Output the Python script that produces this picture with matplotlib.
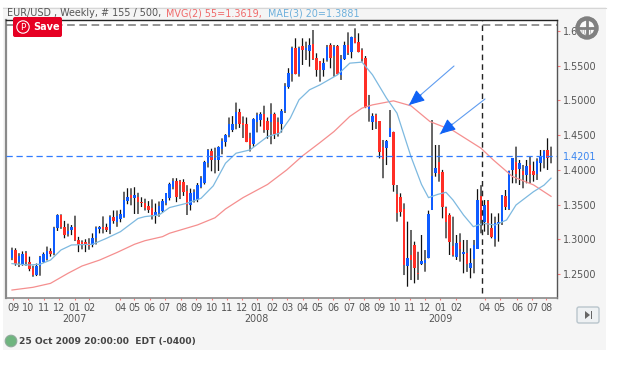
import numpy as np
import matplotlib
matplotlib.use('Agg')
import matplotlib.pyplot as plt
from matplotlib.patches import FancyBboxPatch, Circle, Polygon, Rectangle

# weekly candles
opens = [1.2736, 1.2837, 1.268, 1.2654, 1.280, 1.267, 1.259, 1.2495, 1.262, 1.268,
         1.2715, 1.283, 1.28, 1.316, 1.335, 1.318, 1.3077, 1.3135, 1.318, 1.299,
         1.2965, 1.2955, 1.2945, 1.2925, 1.3015, 1.3155, 1.317, 1.317, 1.3135, 1.332,
         1.3255, 1.33, 1.333, 1.3555, 1.364, 1.3605, 1.3605, 1.3535, 1.352, 1.347,
         1.3445, 1.335, 1.3375, 1.341, 1.352, 1.3595, 1.376, 1.384, 1.383, 1.382,
         1.3687, 1.3495, 1.357, 1.3567, 1.3758, 1.381, 1.410, 1.427, 1.415, 1.414,
         1.431, 1.441, 1.450, 1.4585, 1.467, 1.4825, 1.4675, 1.4655, 1.4455, 1.4383,
         1.470, 1.4728, 1.4805, 1.4695, 1.4695, 1.4805, 1.4685, 1.467, 1.4845, 1.5192,
         1.5392, 1.5752, 1.5392, 1.5776, 1.5728, 1.5713, 1.5814, 1.5608, 1.556, 1.544,
         1.5584, 1.579, 1.565, 1.5776, 1.5375, 1.5608, 1.579, 1.5704, 1.5896, 1.5838,
         1.5728, 1.5608, 1.4885, 1.4695, 1.479, 1.4695, 1.4334, 1.432, 1.4479, 1.4541,
         1.3652, 1.3604, 1.3431, 1.262, 1.2764, 1.2918, 1.2512, 1.2644, 1.2663, 1.2735,
         1.3422, 1.3965, 1.4109, 1.396, 1.3446, 1.335, 1.2894, 1.275, 1.2956, 1.2788,
         1.2798, 1.2591, 1.2726, 1.287, 1.3614, 1.3254, 1.3542, 1.3158, 1.3014, 1.323,
         1.3254, 1.3614, 1.3446, 1.3999, 1.4104, 1.4018, 1.3975, 1.3927, 1.4071, 1.3975,
         1.3951, 1.4109, 1.4167, 1.4287, 1.4200]
highs = [1.288, 1.287, 1.280, 1.2825, 1.283, 1.275, 1.262, 1.265, 1.276, 1.281,
         1.2895, 1.287, 1.318, 1.336, 1.336, 1.3265, 1.3225, 1.3205, 1.334, 1.3035,
         1.2985, 1.30, 1.3015, 1.3085, 1.3185, 1.319, 1.333, 1.3225, 1.3345, 1.3415,
         1.3415, 1.3425, 1.3685, 1.3735, 1.3735, 1.375, 1.367, 1.3605, 1.3585, 1.355,
         1.3575, 1.3515, 1.3545, 1.358, 1.3665, 1.3815, 1.388, 1.388, 1.3855, 1.3865,
         1.378, 1.373, 1.372, 1.381, 1.391, 1.413, 1.430, 1.4305, 1.432, 1.434,
         1.4455, 1.4515, 1.4755, 1.4775, 1.497, 1.488, 1.477, 1.4755, 1.4535, 1.4745,
         1.4825, 1.483, 1.4925, 1.4755, 1.496, 1.4825, 1.4755, 1.4875, 1.525, 1.5465,
         1.5776, 1.5896, 1.5776, 1.5896, 1.5848, 1.5896, 1.6016, 1.568, 1.556, 1.5608,
         1.580, 1.5824, 1.580, 1.580, 1.5656, 1.5848, 1.5982, 1.592, 1.604, 1.5968,
         1.5752, 1.564, 1.508, 1.4815, 1.481, 1.4695, 1.4431, 1.4431, 1.4863, 1.4551,
         1.3782, 1.3662, 1.3518, 1.3254, 1.3134, 1.2966, 1.282, 1.3062, 1.2845, 1.3413,
         1.4719, 1.4359, 1.4359, 1.400, 1.347, 1.3374, 1.3326, 1.3062, 1.3086, 1.299,
         1.299, 1.287, 1.299, 1.3722, 1.378, 1.3566, 1.3566, 1.3374, 1.3326, 1.3374,
         1.3638, 1.371, 1.399, 1.4167, 1.4335, 1.4143, 1.4071, 1.4143, 1.4191, 1.4119,
         1.4167, 1.4287, 1.4287, 1.4455, 1.4335]
lows = [1.270, 1.262, 1.260, 1.262, 1.262, 1.254, 1.246, 1.247, 1.2475, 1.266,
        1.2695, 1.275, 1.277, 1.312, 1.315, 1.3015, 1.304, 1.306, 1.2975, 1.2815,
        1.2855, 1.2815, 1.285, 1.2885, 1.2925, 1.3085, 1.3085, 1.3105, 1.3075, 1.3225,
        1.318, 1.3245, 1.331, 1.3505, 1.349, 1.3365, 1.3365, 1.3465, 1.3415, 1.338,
        1.3285, 1.3225, 1.3325, 1.3385, 1.349, 1.356, 1.372, 1.3535, 1.358, 1.3625,
        1.335, 1.3415, 1.353, 1.3535, 1.3735, 1.379, 1.4035, 1.398, 1.395, 1.3985,
        1.4225, 1.4335, 1.447, 1.4545, 1.4585, 1.4605, 1.446, 1.440, 1.4265, 1.4335,
        1.454, 1.4625, 1.4535, 1.445, 1.437, 1.4445, 1.448, 1.454, 1.482, 1.517,
        1.5272, 1.5377, 1.5344, 1.5512, 1.5584, 1.5488, 1.5584, 1.5344, 1.5272, 1.5344,
        1.556, 1.5464, 1.5344, 1.5368, 1.5296, 1.5584, 1.5656, 1.5608, 1.5824, 1.5694,
        1.556, 1.489, 1.4695, 1.4575, 1.459, 1.4166, 1.388, 1.407, 1.4479, 1.3686,
        1.3254, 1.3326, 1.2485, 1.2317, 1.2413, 1.2365, 1.2415, 1.2629, 1.2533, 1.2725,
        1.3422, 1.3902, 1.383, 1.3302, 1.3014, 1.2774, 1.275, 1.2702, 1.2678, 1.251,
        1.253, 1.2438, 1.251, 1.287, 1.3086, 1.311, 1.3062, 1.3014, 1.2894, 1.2966,
        1.3206, 1.3422, 1.3422, 1.3807, 1.3807, 1.3783, 1.3735, 1.3807, 1.3807, 1.3831,
        1.3855, 1.3975, 1.4023, 1.3999, 1.4095]
closes = [1.2846, 1.2654, 1.275, 1.279, 1.267, 1.258, 1.2495, 1.2605, 1.2735, 1.278,
          1.283, 1.2785, 1.316, 1.335, 1.318, 1.306, 1.312, 1.318, 1.299, 1.292,
          1.292, 1.2925, 1.291, 1.3015, 1.316, 1.317, 1.3155, 1.3135, 1.332, 1.3265,
          1.333, 1.336, 1.357, 1.36, 1.3605, 1.364, 1.3535, 1.3525, 1.346, 1.3425,
          1.335, 1.3385, 1.348, 1.3545, 1.3665, 1.380, 1.384, 1.3615, 1.378, 1.369,
          1.3495, 1.367, 1.368, 1.378, 1.388, 1.4106, 1.428, 1.415, 1.4175, 1.4325,
          1.4407, 1.450, 1.4656, 1.4665, 1.4825, 1.467, 1.4655, 1.4407, 1.436, 1.4733,
          1.479, 1.4805, 1.4584, 1.4584, 1.4805, 1.4527, 1.4527, 1.484, 1.521, 1.54,
          1.5752, 1.5392, 1.5752, 1.5728, 1.5752, 1.580, 1.5608, 1.544, 1.544, 1.5536,
          1.5766, 1.561, 1.577, 1.5392, 1.5593, 1.579, 1.5694, 1.591, 1.5838, 1.5704,
          1.5608, 1.4913, 1.4913, 1.478, 1.4695, 1.4263, 1.4166, 1.4407, 1.4599, 1.3782,
          1.3383, 1.3398, 1.2629, 1.2725, 1.2701, 1.2596, 1.2509, 1.2677, 1.2702, 1.3364,
          1.3912, 1.4022, 1.395, 1.347, 1.3254, 1.2966, 1.2774, 1.2942, 1.287, 1.2812,
          1.2654, 1.2654, 1.2918, 1.3566, 1.3278, 1.3494, 1.3206, 1.3038, 1.323, 1.325,
          1.3629, 1.347, 1.3975, 1.4167, 1.3951, 1.410, 1.3936, 1.4047, 1.3951, 1.3927,
          1.4119, 1.4191, 1.4263, 1.4181, 1.4201]

# moving averages, sampled by eye at these week numbers
mvg_weeks = [0, 6, 11, 16, 20, 25, 30, 35, 38, 43, 45, 53, 58, 61, 66, 73, 78.5, 83,
             88, 92, 96.5, 100, 103, 109, 114, 119.4, 126, 134, 137.5, 143, 149, 154]
mvg_vals = [1.2269, 1.2308, 1.2365, 1.251, 1.2615, 1.270, 1.281, 1.2928, 1.298, 1.3038,
            1.3087, 1.3207, 1.331, 1.3437, 1.360, 1.379, 1.40, 1.4202, 1.4394, 1.4553,
            1.477, 1.489, 1.4937, 1.4995, 1.4923, 1.4697, 1.4567, 1.4312, 1.4144, 1.3904,
            1.3784, 1.3619]
mae_weeks = [0, 2, 5, 8, 11, 14, 17, 23, 27, 31, 36, 38, 42, 45, 50, 54, 57.5, 61, 64,
             68, 73, 76.5, 79.5, 82, 85, 88, 93, 96.5, 100, 103, 107, 110, 114, 117, 119,
             121.7, 124, 126, 129, 131.8, 134.7, 138, 141.3, 144, 149, 152, 154]
mae_vals = [1.2649, 1.264, 1.263, 1.264, 1.270, 1.2846, 1.2918, 1.2928, 1.3014, 1.311,
            1.330, 1.3327, 1.335, 1.3457, 1.352, 1.359, 1.377, 1.4096, 1.424, 1.4288,
            1.448, 1.453, 1.4745, 1.501, 1.5154, 1.5226, 1.537, 1.5538, 1.5553, 1.537,
            1.5034, 1.4817, 1.419, 1.379, 1.36, 1.3648, 1.3677, 1.3566, 1.335, 1.3182,
            1.323, 1.3206, 1.3278, 1.3494, 1.3686, 1.378, 1.3881]

price_ticks = [1.25, 1.30, 1.35, 1.40, 1.45, 1.50, 1.55, 1.60]
last_price = 1.4201
top_level = 1.6086
cursor_week = 134.3

month_weeks = [0.3, 4.7, 9.1, 13.4, 18, 22, 30.9, 34.9, 39.4, 43.7, 48.3, 52.6, 57.1, 61.4,
               65.7, 70, 74.3, 78.6, 83.1, 87.4, 91.7, 96.3, 100.6, 104.9, 109.4, 113.7,
               118, 122.3, 126.9, 135.1, 139.4, 144.3, 148.6, 152.6]
month_labels = ['09', '10', '11', '12', '01', '02', '04', '05', '06', '07', '08', '09', '10', '11',
                '12', '01', '02', '03', '04', '05', '06', '07', '08', '09', '10', '11',
                '12', '01', '02', '04', '05', '06', '07', '08']
year_weeks = [18, 70, 122.3]
year_labels = ['2007', '2008', '2009']

BLUE = '#0f5cff'
RED = '#ff2f26'
TXT = '#555555'

W, H = 636, 367
fig = plt.figure(figsize=(W / 100, H / 100), dpi=100, facecolor='white')

# full figure layer for the window chrome, in pixels
bg = fig.add_axes([0, 0, 1, 1], zorder=0)
bg.set_xlim(0, W)
bg.set_ylim(H, 0)
bg.axis('off')
bg.add_patch(Rectangle((3, 7), 603, 343, fc='#f5f5f5', ec='none'))
bg.plot([3, 606], [7.5, 7.5], color='#d6d6d6', lw=0.8)

ax = fig.add_axes([6 / W, 1 - 298 / H, 551 / W, 278 / H], zorder=1)
ax.set_facecolor('white')
ax.set_xlim(-1.71, 155.71)
ax.set_ylim(1.2154, 1.616)

o = np.array(opens)
c = np.array(closes)
weeks = np.arange(len(o))
wicks = ax.vlines(weeks, lows, highs, colors='#111111', linewidth=0.9, zorder=2)
wicks.set_snap(False)
up = c >= o
ax.bar(weeks, np.abs(c - o) + 0.0006, bottom=np.minimum(o, c) - 0.0003, width=0.82,
       color=[BLUE if u else RED for u in up], linewidth=0, zorder=3)

ax.plot(mvg_weeks, mvg_vals, color='#f58f8f', lw=0.9, zorder=4)
ax.plot(mae_weeks, mae_vals, color='#7db9e0', lw=0.9, zorder=4)

ax.axhline(last_price, color='#2f7bff', lw=0.9, dashes=(5, 3), zorder=4)
ax.axhline(top_level, color='#777777', lw=1.1, dashes=(5, 3), zorder=4)
ax.plot([cursor_week, cursor_week], [1.2225, 1.616], color='#222222', lw=1.0, dashes=(4, 3), zorder=5)

ax.yaxis.tick_right()
ax.set_yticks(price_ticks + [last_price])
ax.set_yticklabels(['%.4f' % p for p in price_ticks] + ['%.4f' % last_price])
ax.tick_params(axis='y', length=2.5, width=0.8, color='#ff7777', labelcolor=TXT, labelsize=6.9, pad=2)
ax.get_yticklabels()[-1].set_color('#3b86f0')
ax.yaxis.get_major_ticks()[-1].tick2line.set_visible(False)

ax.set_xticks(month_weeks)
ax.set_xticklabels(month_labels)
ax.tick_params(axis='x', length=1.5, width=0.8, color='#ff7777', labelcolor=TXT, labelsize=6.9, pad=2)
for w, y in zip(year_weeks, year_labels):
    ax.annotate(y, (w, 0), xycoords=('data', 'axes fraction'), xytext=(0, -21), textcoords='offset pixels',
                ha='center', va='center', fontsize=6.9, color=TXT)

ax.spines['left'].set(color='#8a8a8a', linewidth=1.6)
ax.spines['bottom'].set(color='#8a8a8a', linewidth=1.2)
ax.spines['top'].set(color='#222222', linewidth=1.0)
ax.spines['right'].set(color='#555555', linewidth=1.0)

# overlay: title, arrows, icons
top = fig.add_axes([0, 0, 1, 1], zorder=2)
top.set_xlim(0, W)
top.set_ylim(H, 0)
top.axis('off')
top.patch.set_alpha(0)

top.text(7, 13.5, 'EUR/USD , Weekly, # 155 / 500,', color='#555555', fontsize=6.9, va='center')
top.text(165.7, 13.5, 'MVG(2) 55=1.3619,', color='#f06a6a', fontsize=6.9, va='center')
top.text(268, 13.5, 'MAE(3) 20=1.3881', color='#6db0dc', fontsize=6.9, va='center')

for start, tip in [((454, 66), (409, 105)), ((485, 99), (440, 134))]:
    top.annotate('', xy=tip, xytext=start,
                 arrowprops=dict(arrowstyle='-', color='#5f9cf0', lw=0.8, shrinkA=0, shrinkB=0))
    top.annotate('', xy=tip, xytext=(tip[0] + 12, tip[1] - 10),
                 arrowprops=dict(arrowstyle='-|>,head_length=0.95,head_width=0.42', color='#0f62f5',
                                 lw=0.8, shrinkA=0, shrinkB=0))

# pinterest button
top.add_patch(FancyBboxPatch((14, 18), 47, 18, boxstyle='round,pad=1,rounding_size=2', fc='#e60023', ec='none'))
top.add_patch(Circle((23, 27), 6.2, fc='none', ec='white', lw=0.8))
top.text(23, 27, 'P', color='white', fontsize=6.5, ha='center', va='center')
top.text(33, 27, 'Save', color='white', fontsize=7, fontweight='bold', va='center')

# crosshair icon, the price label shows through it
top.add_patch(Circle((587, 28), 9.5, fc='white', ec='#808080', lw=3, alpha=0.55))
top.add_patch(Circle((587, 28), 9.5, fc='none', ec='#808080', lw=3))
top.plot([587, 587], [20, 36], color='#808080', lw=2)
top.plot([579, 595], [28, 28], color='#808080', lw=2)

# jump-to-end button
top.add_patch(FancyBboxPatch((578, 308), 20, 14, boxstyle='round,pad=1,rounding_size=2', fc='#eef1f3', ec='#b9c5cc', lw=1))
top.add_patch(Polygon([(585, 311), (585, 319), (590, 315)], fc='#666666', ec='none'))
top.add_patch(Rectangle((590.5, 311), 1.5, 8, fc='#666666', ec='none'))

# status line
top.add_patch(Circle((11, 341), 5.8, fc='#6fb57f', ec='#8fa99a', lw=0.8))
top.text(19, 341.5, '25 Oct 2009 20:00:00  EDT (-0400)', color='#444444', fontsize=6.55, fontweight='bold', va='center')

fig.savefig('out.png', dpi=100, facecolor='white')
